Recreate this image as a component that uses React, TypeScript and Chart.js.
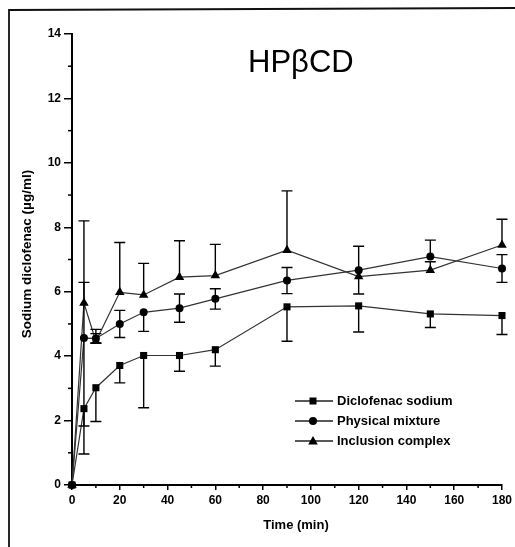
import React, { useEffect, useRef } from 'react';
import { Chart, registerables } from 'chart.js';

Chart.register(...registerables);

// ---- data ----
const times = [0, 5, 10, 20, 30, 45, 60, 90, 120, 150, 180];

const seriesNames = ['Diclofenac sodium', 'Physical mixture', 'Inclusion complex'];

const diclofenacSodium = [0, 2.37, 3.02, 3.71, 4.02, 4.02, 4.2, 5.53, 5.56, 5.31, 5.26];
const diclofenacErrHigh = [0, 0, 0, 0, 0, 0, 0, 0, 0, 0, 0];
const diclofenacErrLow = [0, 1.41, 1.05, 0.54, 1.62, 0.49, 0.51, 1.07, 0.81, 0.42, 0.59];

const physicalMixture = [0, 4.56, 4.55, 5.0, 5.36, 5.49, 5.78, 6.35, 6.67, 7.09, 6.72];
const physicalErrHigh = [0, 1.73, 0.15, 0.42, 0, 0.44, 0.31, 0.4, 0.74, 0.51, 0.43];
const physicalErrLow = [0, 2.73, 0.15, 0.42, 0.59, 0.44, 0.32, 0.41, 0.74, 0, 0.43];

const inclusionComplex = [0, 5.65, 4.46, 5.98, 5.9, 6.45, 6.5, 7.29, 6.47, 6.67, 7.45];
const inclusionErrHigh = [0, 2.55, 0.37, 1.55, 0.98, 1.13, 0.97, 1.84, 0, 0.26, 0.8];
const inclusionErrLow = [0, 0, 0.05, 0, 0, 0, 0, 0, 0, 0, 0];

const xTicks = [0, 20, 40, 60, 80, 100, 120, 140, 160, 180];
const yTicks = [0, 2, 4, 6, 8, 10, 12, 14];
const xMinorTicks = [10, 30, 50, 70, 90, 110, 130, 150, 170];
const yMinorTicks = [1, 3, 5, 7, 9, 11, 13];

const chartTitle = 'HPβCD';
const xTitle = 'Time (min)';
const yTitle = 'Sodium diclofenac (µg/ml)';

const seriesValues = [diclofenacSodium, physicalMixture, inclusionComplex];
const seriesErrHigh = [diclofenacErrHigh, physicalErrHigh, inclusionErrHigh];
const seriesErrLow = [diclofenacErrLow, physicalErrLow, inclusionErrLow];
const seriesStyles = ['rect', 'circle', 'triangle'];

const FONT = '"Liberation Sans", Arial, Helvetica, sans-serif';

function drawMarker(ctx: CanvasRenderingContext2D, style: string, x: number, y: number) {
  ctx.beginPath();
  if (style === 'rect') {
    ctx.rect(x - 3.5, y - 3.5, 7, 7);
  } else if (style === 'circle') {
    ctx.arc(x, y, 4, 0, Math.PI * 2);
  } else {
    ctx.moveTo(x, y - 5);
    ctx.lineTo(x + 4.8, y + 3.5);
    ctx.lineTo(x - 4.8, y + 3.5);
    ctx.closePath();
  }
  ctx.fill();
}

const decorPlugin = {
  id: 'decor',
  beforeDraw(chart: any) {
    const ctx = chart.ctx as CanvasRenderingContext2D;
    ctx.save();
    ctx.fillStyle = '#ffffff';
    ctx.fillRect(0, 0, chart.width, chart.height);
    // scanned frame
    ctx.strokeStyle = '#111';
    ctx.lineWidth = 1.8;
    ctx.beginPath();
    ctx.moveTo(9, chart.height + 5);
    ctx.lineTo(9, 10);
    ctx.lineTo(chart.width + 5, 8);
    ctx.stroke();
    ctx.restore();
  },
  afterDatasetsDraw(chart: any) {
    const ctx = chart.ctx as CanvasRenderingContext2D;
    const xs = chart.scales.x;
    const ys = chart.scales.y;
    ctx.save();
    ctx.strokeStyle = '#000';
    ctx.lineWidth = 1.4;
    seriesValues.forEach((vals, s) => {
      times.forEach((t, i) => {
        const px = xs.getPixelForValue(t);
        const py = ys.getPixelForValue(vals[i]);
        const hi = seriesErrHigh[s][i];
        const lo = seriesErrLow[s][i];
        if (hi > 0) {
          const top = ys.getPixelForValue(vals[i] + hi);
          ctx.beginPath();
          ctx.moveTo(px, py);
          ctx.lineTo(px, top);
          ctx.moveTo(px - 5.5, top);
          ctx.lineTo(px + 5.5, top);
          ctx.stroke();
        }
        if (lo > 0) {
          const bot = ys.getPixelForValue(vals[i] - lo);
          ctx.beginPath();
          ctx.moveTo(px, py);
          ctx.lineTo(px, bot);
          ctx.moveTo(px - 5.5, bot);
          ctx.lineTo(px + 5.5, bot);
          ctx.stroke();
        }
      });
    });
    ctx.restore();
  },
  afterDraw(chart: any) {
    const ctx = chart.ctx as CanvasRenderingContext2D;
    const xs = chart.scales.x;
    const ys = chart.scales.y;
    const area = chart.chartArea;
    ctx.save();
    // minor ticks
    ctx.strokeStyle = '#000';
    ctx.lineWidth = 1.5;
    yMinorTicks.forEach((v) => {
      const py = ys.getPixelForValue(v);
      ctx.beginPath();
      ctx.moveTo(area.left - 4, py);
      ctx.lineTo(area.left, py);
      ctx.stroke();
    });
    xMinorTicks.forEach((v) => {
      const px = xs.getPixelForValue(v);
      ctx.beginPath();
      ctx.moveTo(px, area.bottom);
      ctx.lineTo(px, area.bottom + 3);
      ctx.stroke();
    });

    // chart title inside plot
    ctx.fillStyle = '#000';
    ctx.font = `31px ${FONT}`;
    ctx.textAlign = 'left';
    ctx.textBaseline = 'alphabetic';
    ctx.fillText(chartTitle, area.left + 176, 72);

    // axis titles
    ctx.font = `bold 13px ${FONT}`;
    ctx.textAlign = 'center';
    ctx.textBaseline = 'middle';
    ctx.fillText(xTitle, 296, 525);
    ctx.save();
    ctx.translate(27, 254);
    ctx.rotate(-Math.PI / 2);
    ctx.font = `bold 13.5px ${FONT}`;
    ctx.fillText(yTitle, 0, 0);
    ctx.restore();

    // legend
    const lx0 = area.left + 223;
    const lx1 = area.left + 261;
    const mx = area.left + 241;
    const tx = area.left + 265;
    const rowY = [401, 421, 441];
    ctx.font = `bold 13px ${FONT}`;
    ctx.textAlign = 'left';
    ctx.textBaseline = 'middle';
    seriesNames.forEach((name, i) => {
      const y = rowY[i];
      ctx.strokeStyle = '#222';
      ctx.lineWidth = 1.3;
      ctx.beginPath();
      ctx.moveTo(lx0, y);
      ctx.lineTo(lx1, y);
      ctx.stroke();
      ctx.fillStyle = '#000';
      drawMarker(ctx, seriesStyles[i], mx, y);
      ctx.fillText(name, tx, y);
    });
    ctx.restore();
  },
};

export default function App() {
  const ref = useRef<HTMLCanvasElement>(null);
  useEffect(() => {
    const canvas = ref.current;
    if (!canvas) return;
    const datasets = seriesValues.map((vals, s) => ({
      label: seriesNames[s],
      data: times.map((t, i) => ({ x: t, y: vals[i] })),
      borderColor: '#333',
      borderWidth: 1.2,
      backgroundColor: '#000',
      pointStyle: seriesStyles[s] as any,
      pointRadius: s === 0 ? 5 : s === 1 ? 4 : 5.5,
      pointBackgroundColor: '#000',
      pointBorderColor: '#000',
      pointBorderWidth: 0,
      tension: 0,
      fill: false,
      clip: false as any,
    }));
    const tickFont = { family: FONT, size: 12, weight: 'bold' as const };
    const chart = new Chart(canvas, {
      type: 'line',
      data: { datasets },
      options: {
        responsive: false,
        devicePixelRatio: 1,
        animation: false,
        layout: { padding: { left: 0, top: 34, right: 10, bottom: 0 } },
        plugins: { legend: { display: false }, tooltip: { enabled: false }, title: { display: false } },
        scales: {
          x: {
            type: 'linear',
            min: 0,
            max: 180,
            afterFit: (s: any) => { s.height = 62; },
            afterBuildTicks: (s: any) => { s.ticks = xTicks.map((v) => ({ value: v })); },
            ticks: { font: tickFont, color: '#000', padding: 3, maxRotation: 0 },
            grid: { display: true, drawOnChartArea: false, drawTicks: true, tickLength: 5, color: '#000', lineWidth: 1.5 },
            border: { display: true, color: '#000', width: 2 },
          },
          y: {
            type: 'linear',
            min: 0,
            max: 14,
            afterFit: (s: any) => { s.width = 72; },
            afterBuildTicks: (s: any) => { s.ticks = yTicks.map((v) => ({ value: v })); },
            ticks: { font: tickFont, color: '#000', padding: 3 },
            grid: { display: true, drawOnChartArea: false, drawTicks: true, tickLength: 8, color: '#000', lineWidth: 1.5 },
            border: { display: true, color: '#000', width: 2 },
          },
        },
      },
      plugins: [decorPlugin],
    } as any);
    return () => chart.destroy();
  }, []);
  return (
    <div style={{ position: 'absolute', left: 0, top: 0, width: 515, height: 547, background: '#fff' }}>
      <canvas ref={ref} width={515} height={547} style={{ display: 'block', width: 515, height: 547 }} />
    </div>
  );
}
